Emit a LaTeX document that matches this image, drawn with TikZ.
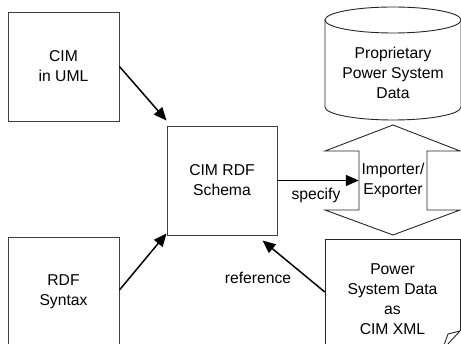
\documentclass[tikz,border=0pt]{standalone}
\usepackage{fontspec}
\setmainfont{Liberation Sans}
\usetikzlibrary{arrows.meta}
\begin{document}
\begin{tikzpicture}[x=1pt,y=-1pt,
  every node/.style={font=\fontsize{15.7}{20}\selectfont, align=center, inner sep=0pt},
  boxnode/.style={draw=black!75, line width=0.9pt, minimum width=111pt, minimum height=109pt},
  shapeline/.style={draw=black!85, line width=0.9pt},
  arr/.style={draw=black, line width=1.5pt, -{Triangle[length=13pt,width=11pt]}}]
\useasboundingbox[fill=white] (0,0) rectangle (461,344);
% boxes
\node[boxnode] (uml) at (63.5,66.5) {CIM\\in UML};
\node[boxnode, minimum width=110pt] (schema) at (222,180.5) {CIM RDF\\Schema};
\node[boxnode] (rdf) at (63.5,291.5) {RDF\\Syntax};
% cylinder
\draw[shapeline] (325,20) -- (325,107) arc[start angle=180, end angle=360, x radius=68pt, y radius=13pt] -- (461,20);
\draw[shapeline] (393,20) ellipse [x radius=68pt, y radius=13pt];
\node (db) at (393,73) {Proprietary\\Power System\\Data};
% double arrow
\draw[shapeline] (393,125) -- (460,151) -- (427,151) -- (427,210) -- (460,210) -- (393,235)
  -- (325,210) -- (359,210) -- (359,151) -- (325,151) -- cycle;
\node[minimum width=68pt, minimum height=59pt] (imp) at (393,180.5) {Importer/\\Exporter};
% document
\draw[shapeline] (460,331) -- (460,239) -- (325,239) -- (325,350);
\draw[shapeline] (460,331) -- (448,334) -- (444,345);
\draw[shapeline] (460,331) -- (447,345);
\node[minimum width=135pt, minimum height=120pt] (doc) at (392.5,299) {Power\\System Data\\as\\CIM XML};
% connectors
\draw[arr] (uml.east) -- ([yshift=5pt]schema.north west);
\draw[arr] ([yshift=1.5pt]rdf.east) -- ([yshift=2pt]schema.south west);
\draw[arr] (schema.east) -- (imp.west);
\draw[arr] ([yshift=7pt]doc.west) -- ([xshift=-15pt,yshift=-5pt]schema.south east);
% labels
\node (lspec) at (316,195) {specify};
\node (lref) at (258,278) {reference};
\end{tikzpicture}
\end{document}
